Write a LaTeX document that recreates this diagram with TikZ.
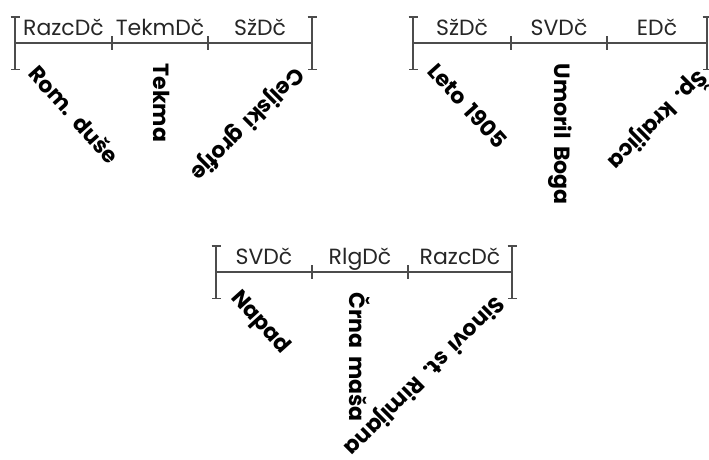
\documentclass[tikz,border=0pt]{standalone}
\usepackage{fontspec}
\setmainfont{Poppins}[WordSpace=1.6]
\usetikzlibrary{arrows.meta}

\begin{document}
\begin{tikzpicture}[x=1pt,y=-1pt,line width=1.5pt,draw=black!70]
\tikzstyle{endbar}=[{Bar[width=9pt]}-{Bar[width=9pt]}]
\tikzstyle{era}=[font=\fontsize{22}{22}\selectfont,anchor=base,yshift=8pt,text=black!85]
\tikzstyle{work}=[font=\bfseries\fontsize{22}{22}\selectfont,anchor=west,inner sep=0pt]
\useasboundingbox (0,0) rectangle (709,459);
% left line
\coordinate (l0) at (15,43);
\coordinate (l1) at (112,43);
\coordinate (l2) at (208,43);
\coordinate (l3) at (312,43);
\draw (l0) -- node[era] {RazcDč} (l1) -- node[era] {TekmDč} (l2) -- node[era] {SžDč} (l3);
\draw [endbar] ([yshift=27pt]l0) -- ([yshift=-27pt]l0);
\draw [endbar] ([yshift=27pt]l3) -- ([yshift=-27pt]l3);
\draw ([yshift=7pt]l1) -- ([yshift=-7pt]l1);
\draw ([yshift=7pt]l2) -- ([yshift=-7pt]l2);
\node [work,rotate=-48] (romduse) at (33,68) {Rom. duše};
\node [work,rotate=-90] (tekma) at (162,63) {Tekma};
\node [work,rotate=-135] (celjski) at (300,70) {Celjski grofje};
% right line
\coordinate (r0) at (413,43);
\coordinate (r1) at (511,43);
\coordinate (r2) at (607,43);
\coordinate (r3) at (707,43);
\draw (r0) -- node[era] {SžDč} (r1) -- node[era] {SVDč} (r2) -- node[era] {EDč} (r3);
\draw [endbar] ([yshift=27pt]r0) -- ([yshift=-27pt]r0);
\draw [endbar] ([yshift=27pt]r3) -- ([yshift=-27pt]r3);
\draw ([yshift=7pt]r1) -- ([yshift=-7pt]r1);
\draw ([yshift=7pt]r2) -- ([yshift=-7pt]r2);
\node [work,rotate=-48] (leto) at (432,66) {Leto 1905};
\node [work,rotate=-90] (umoril) at (560,63) {Umoril Boga};
\node [work,rotate=-135] (kraljica) at (704,74) {Šp. kraljica};
% lower line
\coordinate (d0) at (216,272);
\coordinate (d1) at (312,272);
\coordinate (d2) at (408,272);
\coordinate (d3) at (512,272);
\draw (d0) -- node[era] {SVDč} (d1) -- node[era] {RlgDč} (d2) -- node[era] {RazcDč} (d3);
\draw [endbar] ([yshift=27pt]d0) -- ([yshift=-27pt]d0);
\draw [endbar] ([yshift=27pt]d3) -- ([yshift=-27pt]d3);
\draw ([yshift=7pt]d1) -- ([yshift=-7pt]d1);
\draw ([yshift=7pt]d2) -- ([yshift=-7pt]d2);
\node [work,rotate=-48] (napad) at (234,294) {Napad};
\node [work,rotate=-90] (crna) at (360,292) {Črna maša};
\node [work,rotate=-135] (sinovi) at (500,299) {Sinovi st. Rimljana};
\end{tikzpicture}
\end{document}
